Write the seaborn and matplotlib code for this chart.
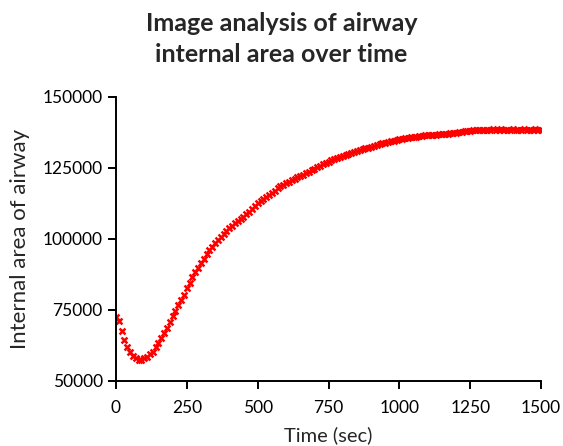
import numpy as np
import pandas as pd
import matplotlib.pyplot as plt
import seaborn as sns

# Tiempo cada 10 s (0 a 1500)
time_sec = list(range(0, 1510, 10))

# Área interna de la vía aérea
area = [
    72500, 71000, 67600, 64300, 62000, 60200, 58700, 57900, 57500, 57500,
    57900, 58500, 59300, 60200, 61800, 63400, 65100, 66900, 68700, 70700,
    72700, 74600, 76700, 78500, 80400, 82600, 84600, 86400, 88200, 89900,
    91500, 93000, 94500, 95900, 97200, 98400, 99600, 100700, 101800, 102800,
    103700, 104600, 105400, 106200, 107000, 107800, 108700, 109500, 110500, 111500,
    112500, 113300, 114000, 114800, 115600, 116300, 117000, 117800, 118500, 119000,
    119500, 120100, 120600, 121100, 121600, 122000, 122500, 123100, 123600, 124100,
    124700, 125200, 125700, 126200, 126700, 127100, 127600, 128000, 128400, 128800,
    129200, 129600, 129900, 130300, 130600, 130900, 131200, 131500, 131800, 132100,
    132400, 132700, 133000, 133300, 133600, 133800, 134100, 134300, 134600, 134800,
    135000, 135200, 135400, 135600, 135700, 135900, 136000, 136200, 136300, 136400,
    136500, 136600, 136700, 136700, 136800, 136900, 136900, 137000, 137100, 137200,
    137300, 137500, 137700, 137900, 138000, 138100, 138200, 138200, 138300, 138300,
    138400, 138400, 138400, 138500, 138400, 138400, 138500, 138400, 138400, 138400,
    138500, 138400, 138400, 138400, 138500, 138400, 138400, 138400, 138500, 138400,
    138400,
]

x_ticks = [0, 250, 500, 750, 1000, 1250, 1500]
y_ticks = [50000, 75000, 100000, 125000, 150000]

df = pd.DataFrame({"time": time_sec, "area": area})

sns.set_style("ticks")
plt.rcParams["font.family"] = ["Lato", "DejaVu Sans"]

fig = plt.figure(figsize=(5.63, 4.46), dpi=100)
ax = fig.add_axes([0.206, 0.146, 0.755, 0.637])

sns.scatterplot(data=df, x="time", y="area", ax=ax, marker="x",
                color="#ff0000", s=18, linewidth=1.8)

ax.set_xlim(0, 1500)
ax.set_ylim(50000, 150000)
ax.set_xticks(x_ticks)
ax.set_yticks(y_ticks)
ax.tick_params(labelsize=12.5, length=6, width=1.4, color="black", labelcolor="black")
ax.tick_params(axis="x", pad=8)
for side in ["left", "bottom"]:
    ax.spines[side].set_linewidth(1.4)
    ax.spines[side].set_color("black")
sns.despine(ax=ax)

ax.set_xlabel("Time (sec)", fontsize=14.5, labelpad=7)
ax.set_ylabel("Internal area of airway", fontsize=16, labelpad=9)

fig.suptitle("Image analysis of airway\ninternal area over time",
             x=0.5, y=0.972, fontsize=18, fontweight="bold", linespacing=1.4)

fig.savefig("out.png", dpi=100)
